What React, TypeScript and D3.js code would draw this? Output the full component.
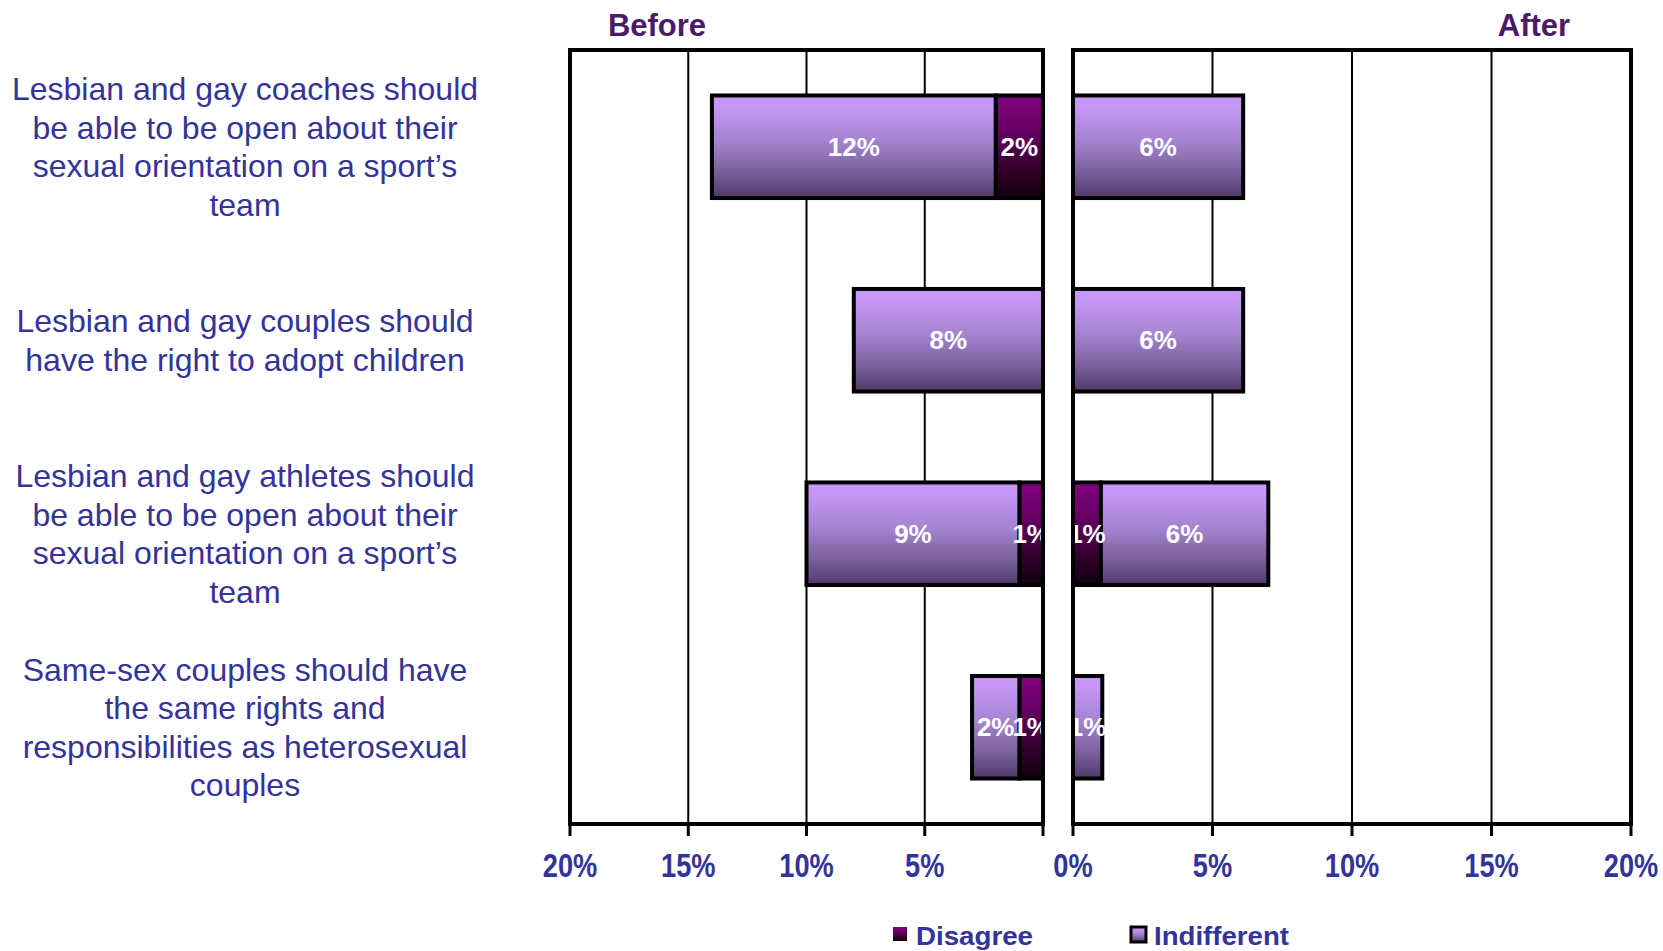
import { useEffect, useRef } from 'react';
import * as d3 from 'd3';

// statements, wrapped as in the original slide
const categories = [
  ['Lesbian and gay coaches should', 'be able to be open about their', 'sexual orientation on a sport\u2019s', 'team'],
  ['Lesbian and gay couples should', 'have the right to adopt children'],
  ['Lesbian and gay athletes should', 'be able to be open about their', 'sexual orientation on a sport\u2019s', 'team'],
  ['Same-sex couples should have', 'the same rights and', 'responsibilities as heterosexual', 'couples'],
];

const beforeDisagree = [2, 0, 1, 1];
const beforeIndifferent = [12, 8, 9, 2];
const afterDisagree = [0, 0, 1, 0];
const afterIndifferent = [6.1, 6.1, 6.0, 1.05];

const tickValues = [0, 5, 10, 15, 20];
const gridValues = [5, 10, 15];
const seriesNames = ['Disagree', 'Indifferent'];
const panelTitles = ['Before', 'After'];

const W = 1663;
const H = 951;
const FONT = '"Liberation Sans", Arial, Helvetica, sans-serif';
const BLUE = '#333399';

export default function App() {
  const svgRef = useRef<SVGSVGElement>(null);

  useEffect(() => {
    if (!svgRef.current) return;
    const svg = d3.select(svgRef.current);
    svg.selectAll('*').remove();

    const defs = svg.append('defs');
    const ind = defs
      .append('linearGradient')
      .attr('id', 'gInd')
      .attr('x1', 0).attr('y1', 0).attr('x2', 0).attr('y2', 1);
    [
      [0, '#c997fa'],
      [0.12, '#c695f5'],
      [0.45, '#a383cf'],
      [0.75, '#7a5f9a'],
      [1, '#50386a'],
    ].forEach(([o, c]) => ind.append('stop').attr('offset', o).attr('stop-color', c));
    const dis = defs
      .append('linearGradient')
      .attr('id', 'gDis')
      .attr('x1', 0).attr('y1', 0).attr('x2', 0).attr('y2', 1);
    [
      [0, '#82007f'],
      [0.3, '#6a0068'],
      [0.7, '#34002f'],
      [1, '#10000c'],
    ].forEach(([o, c]) => dis.append('stop').attr('offset', o).attr('stop-color', c));

    const top = 50;
    const bottom = 824;

    const y = d3
      .scaleBand<number>()
      .domain(categories.map((_c, i) => i))
      .range([top, bottom])
      .paddingInner(0.47)
      .paddingOuter(0.235);

    const panels = [
      {
        title: panelTitles[0],
        x: d3.scaleLinear().domain([20, 0]).range([570, 1043]),
        disagree: beforeDisagree,
        indifferent: beforeIndifferent,
        labelTicks: tickValues.filter((t) => t !== 0),
        titleX: 657,
      },
      {
        title: panelTitles[1],
        x: d3.scaleLinear().domain([0, 20]).range([1073, 1631]),
        disagree: afterDisagree,
        indifferent: afterIndifferent,
        labelTicks: tickValues,
        titleX: 1534,
      },
    ];

    panels.forEach((p) => {
      const xs = p.x;
      const [r0, r1] = xs.range();
      const x0 = Math.min(r0, r1);
      const x1 = Math.max(r0, r1);
      const g = svg.append('g');

      // gridlines
      g.selectAll('line.grid')
        .data(gridValues)
        .join('line')
        .attr('x1', (d) => xs(d))
        .attr('x2', (d) => xs(d))
        .attr('y1', top)
        .attr('y2', bottom)
        .attr('stroke', '#000')
        .attr('stroke-width', 2);

      // stacked segments
      const segs: { row: number; a: number; b: number; v: number; fill: string }[] = [];
      categories.forEach((_c, i) => {
        const d = p.disagree[i];
        const v = p.indifferent[i];
        if (d > 0) segs.push({ row: i, a: 0, b: d, v: d, fill: 'url(#gDis)' });
        if (v > 0) segs.push({ row: i, a: d, b: d + v, v, fill: 'url(#gInd)' });
      });

      g.selectAll('rect.seg')
        .data(segs)
        .join('rect')
        .attr('x', (s) => Math.min(xs(s.a), xs(s.b)))
        .attr('y', (s) => y(s.row) ?? 0)
        .attr('width', (s) => Math.abs(xs(s.b) - xs(s.a)))
        .attr('height', y.bandwidth())
        .attr('fill', (s) => s.fill)
        .attr('stroke', '#000')
        .attr('stroke-width', 4);

      g.selectAll('text.val')
        .data(segs)
        .join('text')
        .attr('x', (s) => (xs(s.a) + xs(s.b)) / 2)
        .attr('y', (s) => (y(s.row) ?? 0) + y.bandwidth() / 2)
        .attr('text-anchor', 'middle')
        .attr('dominant-baseline', 'central')
        .attr('fill', '#fff')
        .attr('font-family', FONT)
        .attr('font-weight', 'bold')
        .attr('font-size', 26)
        .text((s) => `${Math.round(s.v)}%`);

      // frame
      g.append('rect')
        .attr('x', x0)
        .attr('y', top)
        .attr('width', x1 - x0)
        .attr('height', bottom - top)
        .attr('fill', 'none')
        .attr('stroke', '#000')
        .attr('stroke-width', 4);

      // ticks
      g.selectAll('line.tick')
        .data(tickValues)
        .join('line')
        .attr('x1', (d) => xs(d))
        .attr('x2', (d) => xs(d))
        .attr('y1', bottom)
        .attr('y2', bottom + 12)
        .attr('stroke', '#000')
        .attr('stroke-width', 3);

      g.selectAll('text.tick')
        .data(p.labelTicks)
        .join('text')
        .attr('transform', (d) => `translate(${xs(d)},877) scale(0.8,1)`)
        .attr('text-anchor', 'middle')
        .attr('fill', BLUE)
        .attr('font-family', FONT)
        .attr('font-weight', 'bold')
        .attr('font-size', 34)
        .text((d) => `${d}%`);

      // panel title
      svg
        .append('text')
        .attr('x', p.titleX)
        .attr('y', 36)
        .attr('text-anchor', 'middle')
        .attr('fill', '#4b1b6a')
        .attr('font-family', FONT)
        .attr('font-weight', 'bold')
        .attr('font-size', 31)
        .text(p.title);
    });

    // category labels
    const lineH = 38.5;
    categories.forEach((lines, i) => {
      const cy = (y(i) ?? 0) + y.bandwidth() / 2;
      const startY = cy - ((lines.length - 1) * lineH) / 2;
      svg
        .append('text')
        .attr('text-anchor', 'middle')
        .attr('fill', BLUE)
        .attr('font-family', FONT)
        .attr('font-size', 32)
        .selectAll('tspan')
        .data(lines)
        .join('tspan')
        .attr('x', 245)
        .attr('y', (_l, j) => startY + j * lineH)
        .attr('dominant-baseline', 'central')
        .text((l) => l);
    });

    // legend
    const legend = [
      { name: seriesNames[0], sx: 893, size: 14, fill: 'url(#gDis)', stroke: 'none', tx: 916, tl: 117 },
      { name: seriesNames[1], sx: 1131, size: 15, fill: 'url(#gInd)', stroke: '#000', tx: 1154, tl: 135 },
    ];
    legend.forEach((l) => {
      svg
        .append('rect')
        .attr('x', l.sx)
        .attr('y', 927)
        .attr('width', l.size)
        .attr('height', l.size)
        .attr('fill', l.fill)
        .attr('stroke', l.stroke)
        .attr('stroke-width', 3);
      svg
        .append('text')
        .attr('x', l.tx)
        .attr('y', 945)
        .attr('fill', BLUE)
        .attr('font-family', FONT)
        .attr('font-weight', 'bold')
        .attr('font-size', 26)
        .attr('textLength', l.tl)
        .attr('lengthAdjust', 'spacingAndGlyphs')
        .text(l.name);
    });
  }, []);

  return (
    <div style={{ position: 'absolute', left: 0, top: 0, background: '#fff' }}>
      <svg ref={svgRef} width={W} height={H} style={{ display: 'block' }} />
    </div>
  );
}
